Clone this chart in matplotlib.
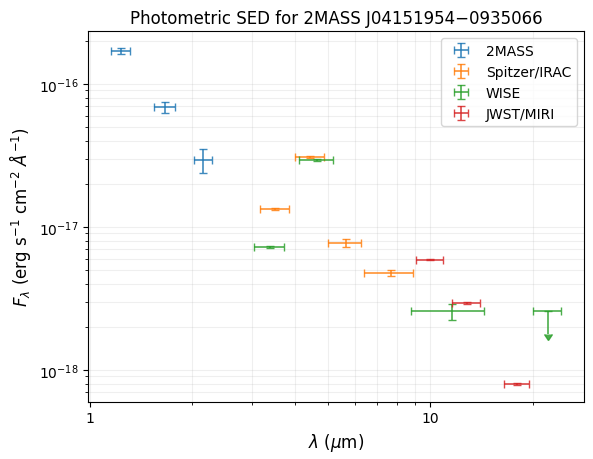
import matplotlib
matplotlib.use('Agg')
import matplotlib.pyplot as plt
from matplotlib.ticker import FormatStrFormatter, NullFormatter

# 2MASS (J, H, Ks)
tmass_wave = [1.235, 1.662, 2.159]
tmass_werr = [0.08, 0.12, 0.13]
tmass_flux = [1.70e-16, 6.9e-17, 2.94e-17]
tmass_ferr = [0.08e-16, 0.6e-17, 0.55e-17]

# Spitzer/IRAC (3.6, 4.5, 5.8, 8.0)
irac_wave = [3.51, 4.45, 5.65, 7.65]
irac_werr = [0.34, 0.43, 0.63, 1.27]
irac_flux = [1.33e-17, 3.07e-17, 7.7e-18, 4.74e-18]
irac_ferr = [0.02e-17, 0.05e-17, 0.5e-18, 0.22e-18]

# WISE (W1, W2, W3, W4 upper limit)
wise_wave = [3.38, 4.65, 11.6, 22.1]
wise_werr = [0.35, 0.53, 2.8, 2.1]
wise_flux = [7.24e-18, 2.94e-17, 2.57e-18, 2.57e-18]
wise_ferr = [0.15e-18, 0.04e-17, 0.32e-18, 0.78e-18]
wise_uplim = [False, False, False, True]

# JWST/MIRI (F1000W, F1280W, F1800W)
miri_wave = [10.0, 12.8, 18.0]
miri_werr = [0.9, 1.2, 1.5]
miri_flux = [5.87e-18, 2.94e-18, 7.98e-19]
miri_ferr = [0.05e-18, 0.03e-18, 0.1e-19]

fig, ax = plt.subplots(figsize=(5.93, 4.6))

style = dict(fmt='none', capsize=3, elinewidth=1.2, capthick=1, alpha=0.85)
ax.errorbar(tmass_wave, tmass_flux, xerr=tmass_werr, yerr=tmass_ferr,
            color='C0', label='2MASS', **style)
ax.errorbar(irac_wave, irac_flux, xerr=irac_werr, yerr=irac_ferr,
            color='C1', label='Spitzer/IRAC', **style)
ax.errorbar(wise_wave, wise_flux, xerr=wise_werr, yerr=wise_ferr, uplims=wise_uplim,
            color='C2', label='WISE', **style)
ax.errorbar(miri_wave, miri_flux, xerr=miri_werr, yerr=miri_ferr,
            color='C3', label='JWST/MIRI', **style)

ax.set_xscale('log')
ax.set_yscale('log')
ax.xaxis.set_major_formatter(FormatStrFormatter('%g'))
ax.xaxis.set_minor_formatter(NullFormatter())

ax.set_xlabel(r'$\lambda$ ($\mu$m)', fontsize=12)
ax.set_ylabel(r'$F_\lambda$ (erg s$^{-1}$ cm$^{-2}$ $\AA^{-1}$)', fontsize=12)
ax.set_title('Photometric SED for 2MASS J04151954\u22120935066')
ax.grid(True, which='both', alpha=0.2)
ax.legend(loc='upper right')

plt.subplots_adjust(left=0.149, right=0.984, top=0.930, bottom=0.125)
plt.savefig('out.png', dpi=100)
